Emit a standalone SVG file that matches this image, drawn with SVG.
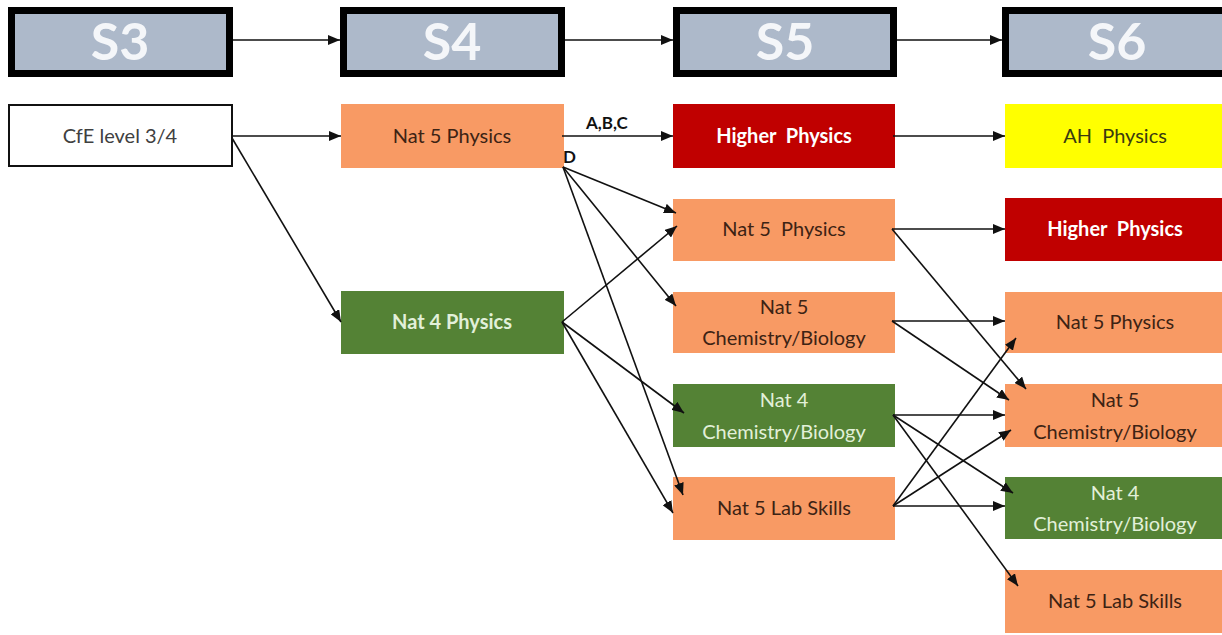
<svg xmlns="http://www.w3.org/2000/svg" width="1222" height="635" viewBox="0 0 1222 635">
  <defs>
    <marker id="arrow" markerUnits="userSpaceOnUse" markerWidth="12" markerHeight="10" viewBox="0 0 12 10" refX="12" refY="5" orient="auto">
      <path d="M0,0 L12,5 L0,10 Z" fill="#111"/>
    </marker>
    <style>
      .hdr rect { fill: #adb9ca; stroke: #000; stroke-width: 7; }
      .hdr text { font-family: Lato, "Open Sans", "Liberation Sans", sans-serif; font-weight: bold; font-size: 52px; fill: #f4f6f9; text-anchor: middle; }
      .lbl { font-family: Lato, "Open Sans", "Liberation Sans", sans-serif; font-size: 20px; text-anchor: middle; white-space: pre; }
      .orange rect { fill: #f89a64; }
      .orange text { fill: #3d2314; }
      .red rect { fill: #c00000; }
      .red text { fill: #ffffff; font-weight: bold; }
      .green rect { fill: #548235; }
      .green text { fill: #e2f0d9; }
      .yellow rect { fill: #ffff00; }
      .yellow text { fill: #3a3a10; }
      .plain rect { fill: #ffffff; stroke: #111; stroke-width: 2; }
      .plain text { fill: #404040; }
      .edge { stroke: #111; stroke-width: 1.6; fill: none; marker-end: url(#arrow); }
      .tag { font-family: Lato, "Open Sans", "Liberation Sans", sans-serif; font-size: 17px; font-weight: bold; fill: #111; }
    </style>
  </defs>

  <rect width="1222" height="635" fill="#ffffff"/>

  <!-- Year headers -->
  <g id="hdr-s3" class="hdr"><rect x="11.5" y="10.5" width="218" height="63"/><text x="120" y="60">S3</text></g>
  <g id="hdr-s4" class="hdr"><rect x="343.5" y="10.5" width="218" height="63"/><text x="452" y="60">S4</text></g>
  <g id="hdr-s5" class="hdr"><rect x="676.5" y="10.5" width="217" height="63"/><text x="785" y="60">S5</text></g>
  <g id="hdr-s6" class="hdr"><rect x="1005.5" y="10.5" width="222" height="63"/><text x="1117" y="60">S6</text></g>

  <!-- S3 -->
  <g id="s3-cfe" class="plain"><rect x="9" y="105" width="223" height="61"/><text class="lbl" x="120" y="143">CfE level 3/4</text></g>

  <!-- S4 -->
  <g id="s4-n5phys" class="orange"><rect x="341" y="104" width="223" height="64"/><text class="lbl" x="452" y="143">Nat 5 Physics</text></g>
  <g id="s4-n4phys" class="green"><rect x="341" y="291" width="223" height="63"/><text class="lbl" x="452" y="329" font-weight="bold">Nat 4 Physics</text></g>

  <!-- S5 -->
  <g id="s5-higher" class="red"><rect x="673" y="104" width="222" height="64"/><text class="lbl" x="784" y="143">Higher  Physics</text></g>
  <g id="s5-n5phys" class="orange"><rect x="673" y="199" width="222" height="62"/><text class="lbl" x="784" y="236">Nat 5  Physics</text></g>
  <g id="s5-n5chem" class="orange"><rect x="673" y="292" width="222" height="61"/><text class="lbl" x="784" y="314">Nat 5</text><text class="lbl" x="784" y="345">Chemistry/Biology</text></g>
  <g id="s5-n4chem" class="green"><rect x="673" y="384" width="222" height="63"/><text class="lbl" x="784" y="407">Nat 4</text><text class="lbl" x="784" y="439">Chemistry/Biology</text></g>
  <g id="s5-n5lab" class="orange"><rect x="673" y="477" width="222" height="63"/><text class="lbl" x="784" y="515">Nat 5 Lab Skills</text></g>

  <!-- S6 -->
  <g id="s6-ah" class="yellow"><rect x="1005" y="104" width="217" height="64"/><text class="lbl" x="1115" y="143">AH  Physics</text></g>
  <g id="s6-higher" class="red"><rect x="1005" y="198" width="217" height="63"/><text class="lbl" x="1115" y="236">Higher  Physics</text></g>
  <g id="s6-n5phys" class="orange"><rect x="1005" y="292" width="217" height="61"/><text class="lbl" x="1115" y="329">Nat 5 Physics</text></g>
  <g id="s6-n5chem" class="orange"><rect x="1005" y="384" width="217" height="63"/><text class="lbl" x="1115" y="407">Nat 5</text><text class="lbl" x="1115" y="439">Chemistry/Biology</text></g>
  <g id="s6-n4chem" class="green"><rect x="1005" y="477" width="217" height="62"/><text class="lbl" x="1115" y="500">Nat 4</text><text class="lbl" x="1115" y="531">Chemistry/Biology</text></g>
  <g id="s6-n5lab" class="orange"><rect x="1005" y="570" width="217" height="63"/><text class="lbl" x="1115" y="608">Nat 5 Lab Skills</text></g>

  <!-- Connectors -->
  <g id="connectors">
    <line class="edge" x1="233" y1="40" x2="340" y2="40"/>
    <line class="edge" x1="565" y1="40" x2="673" y2="40"/>
    <line class="edge" x1="897" y1="40" x2="1002" y2="40"/>

    <line class="edge" x1="232" y1="136" x2="341" y2="136"/>
    <line class="edge" x1="562" y1="136" x2="673" y2="136"/>
    <line class="edge" x1="893" y1="136" x2="1005" y2="136"/>

    <line class="edge" x1="232" y1="138" x2="341" y2="322"/>

    <line class="edge" x1="563" y1="167" x2="676" y2="213"/>
    <line class="edge" x1="563" y1="167" x2="676" y2="306"/>
    <line class="edge" x1="563" y1="167" x2="683" y2="495"/>

    <line class="edge" x1="562" y1="322" x2="677" y2="226"/>
    <line class="edge" x1="562" y1="322" x2="684" y2="413"/>
    <line class="edge" x1="562" y1="322" x2="673" y2="513"/>

    <line class="edge" x1="892" y1="229" x2="1005" y2="229"/>
    <line class="edge" x1="892" y1="229" x2="1026" y2="389"/>

    <line class="edge" x1="892" y1="321" x2="1005" y2="321"/>
    <line class="edge" x1="892" y1="321" x2="1009" y2="400"/>

    <line class="edge" x1="893" y1="415" x2="1005" y2="415"/>
    <line class="edge" x1="893" y1="415" x2="1013" y2="493"/>
    <line class="edge" x1="893" y1="415" x2="1018" y2="586"/>

    <line class="edge" x1="893" y1="506" x2="1005" y2="506"/>
    <line class="edge" x1="893" y1="506" x2="1016" y2="338"/>
    <line class="edge" x1="893" y1="506" x2="1011" y2="430"/>

    <text class="tag" x="586" y="129">A,B,C</text>
    <text class="tag" x="563" y="163">D</text>
  </g>
</svg>
